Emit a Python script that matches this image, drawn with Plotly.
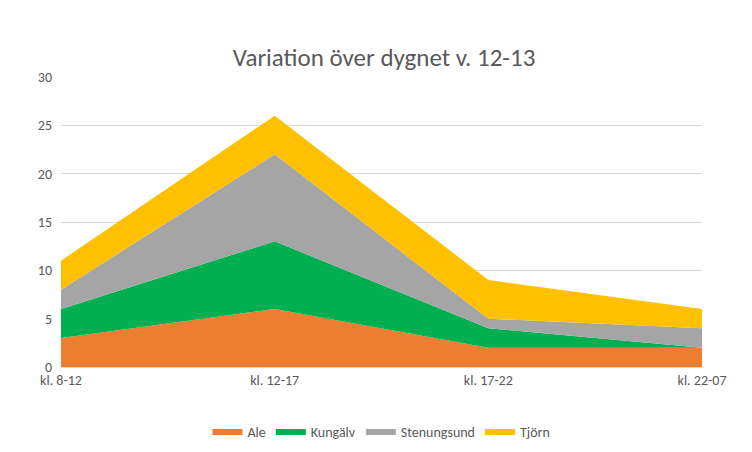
import plotly.graph_objects as go

categories = ["kl. 8-12", "kl. 12-17", "kl. 17-22", "kl. 22-07"]
ale = [3, 6, 2, 2]
kungalv = [3, 7, 2, 0]
stenungsund = [2, 9, 1, 2]
tjorn = [3, 4, 4, 2]

series = [("Ale", ale, "#ED7D31"), ("Kungälv", kungalv, "#00B050"),
          ("Stenungsund", stenungsund, "#A5A5A5"), ("Tjörn", tjorn, "#FFC000")]

fig = go.Figure()
for name, vals, col in series:
    fig.add_trace(go.Scatter(x=categories, y=vals, name=name, mode="none",
                             stackgroup="one", fillcolor=col))

fig.update_layout(
    width=752, height=452,
    paper_bgcolor="white", plot_bgcolor="white",
    font=dict(family="Calibri, Carlito, 'Liberation Sans', sans-serif", color="#595959", size=14),
    title=dict(text="Variation över dygnet v. 12-13", x=0.5, y=0.91, xanchor="center",
               font=dict(size=25, color="#595959")),
    margin=dict(l=53, r=58, t=69, b=90),
    xaxis=dict(showgrid=False, showline=True, linecolor="#D9D9D9", ticks="",
               range=[0, 3], tickfont=dict(size=14)),
    yaxis=dict(range=[0, 30], dtick=5, gridcolor="#D9D9D9", zeroline=False,
               tickfont=dict(size=14), ticklabelstandoff=8),
    legend=dict(orientation="h", x=0.5, xanchor="center", y=-0.17, yanchor="top",
                font=dict(size=14), traceorder="normal"),
)
fig.write_html("out.html")
